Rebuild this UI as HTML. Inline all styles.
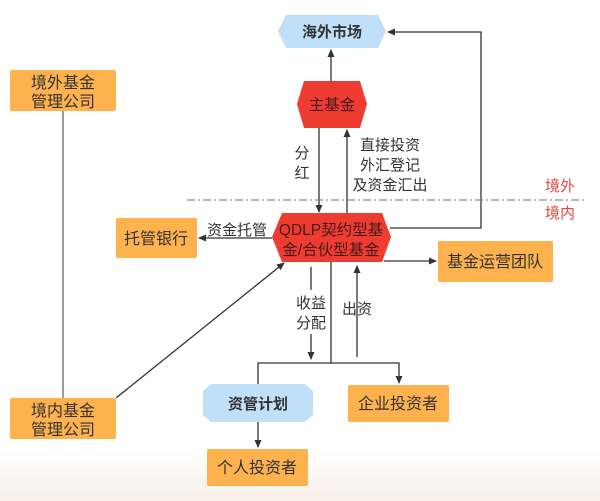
<!DOCTYPE html>
<html><head><meta charset="utf-8"><style>
html,body{margin:0;padding:0;background:#fff}
svg{display:block}
text{font-family:"Liberation Sans","Noto Sans CJK SC",sans-serif;fill:#333}
</style></head><body>
<svg width="600" height="501" viewBox="0 0 600 501" xmlns="http://www.w3.org/2000/svg">
<defs>
<marker id="a" markerWidth="8" markerHeight="8" refX="7" refY="4" orient="auto" markerUnits="userSpaceOnUse"><path d="M0,0.5 L8,4 L0,7.5 Z" fill="#333"/></marker>
<linearGradient id="bg" x1="0" y1="0" x2="0" y2="1"><stop offset="0" stop-color="#fff"/><stop offset="1" stop-color="#f8efe8"/></linearGradient>
</defs>
<rect x="0" y="450" width="600" height="51" fill="url(#bg)"/>
<g stroke="#333" stroke-width="1.3" fill="none">
<line x1="331" y1="81" x2="331" y2="50" marker-end="url(#a)"/>
<line x1="319" y1="128" x2="319" y2="212" marker-end="url(#a)"/>
<line x1="347" y1="213" x2="347" y2="130" marker-end="url(#a)"/>
<polyline points="390,228 481,228 481,32 388,32" marker-end="url(#a)"/>
<line x1="272" y1="238" x2="199" y2="238" marker-end="url(#a)"/>
<line x1="384" y1="261" x2="436" y2="261" marker-end="url(#a)"/>
<line x1="311" y1="267" x2="311" y2="290"/>
<line x1="311" y1="334" x2="311" y2="359" marker-end="url(#a)"/>
<polyline points="331,262 331,363"/>
<polyline points="258,383 258,363 399,363 399,383" marker-start="url(#a)" marker-end="url(#a)"/>
<line x1="357" y1="357" x2="357" y2="266" marker-end="url(#a)"/>
<line x1="258" y1="422" x2="258" y2="447" marker-end="url(#a)"/>
<line x1="116" y1="398" x2="284" y2="263" marker-end="url(#a)"/>
<line x1="63" y1="111" x2="63" y2="398" stroke="#666"/>
</g>
<line x1="187" y1="200" x2="585" y2="200" stroke="#777" stroke-width="1" stroke-dasharray="8,3,2,3"/>
<polygon points="286,15 378,15 386,31 378,48 286,48 278,31" fill="#bfe0f8"/>
<text x="332" y="37" font-size="15" font-weight="bold" text-anchor="middle">海外市场</text>
<polygon points="304,81 360,81 367,104 360,128 304,128 297,104" fill="#ee3c33"/>
<text x="332" y="110" font-size="15.5" text-anchor="middle" style="fill:#4a1a1a">主基金</text>
<polygon points="282,213 382,213 391,237 382,262 282,262 272,237" fill="#ee3c33"/>
<text x="331" y="235" font-size="15.5" text-anchor="middle" style="fill:#4a1a1a">QDLP契约型基</text>
<text x="331" y="255" font-size="15.5" text-anchor="middle" style="fill:#4a1a1a">金/合伙型基金</text>
<polygon points="211,384 305,384 313,391 313,415 305,422 211,422 203,415 203,391" fill="#bfe0f8"/>
<text x="258" y="409" font-size="15" font-weight="bold" text-anchor="middle">资管计划</text>
<g fill="#fdb24e">
<rect x="10" y="70" width="106" height="41" rx="2"/>
<rect x="10" y="398" width="106" height="41" rx="2"/>
<rect x="116" y="218" width="81" height="40" rx="2"/>
<rect x="438" y="241" width="115" height="41" rx="2"/>
<rect x="348" y="385" width="101" height="37" rx="2"/>
<rect x="207" y="449" width="101" height="37" rx="2"/>
</g>
<g font-size="16" text-anchor="middle">
<text x="63" y="88">境外基金</text><text x="63" y="107">管理公司</text>
<text x="63" y="416">境内基金</text><text x="63" y="435">管理公司</text>
<text x="156" y="244">托管银行</text>
<text x="495" y="267">基金运营团队</text>
<text x="398" y="409">企业投资者</text>
<text x="257" y="473">个人投资者</text>
</g>
<g font-size="15" text-anchor="middle">
<text x="302" y="158">分</text><text x="302" y="178">红</text>
<text x="390" y="150">直接投资</text><text x="390" y="170">外汇登记</text><text x="390" y="190">及资金汇出</text>
<text x="237" y="235">资金托管</text>
<text x="311" y="308">收益</text><text x="311" y="328">分配</text>
<text x="357" y="314">出资</text>
</g>
<text x="560" y="191" font-size="15" text-anchor="middle" style="fill:#e8453c">境外</text>
<text x="560" y="218" font-size="15" text-anchor="middle" style="fill:#e8453c">境内</text>
</svg>
</body></html>
